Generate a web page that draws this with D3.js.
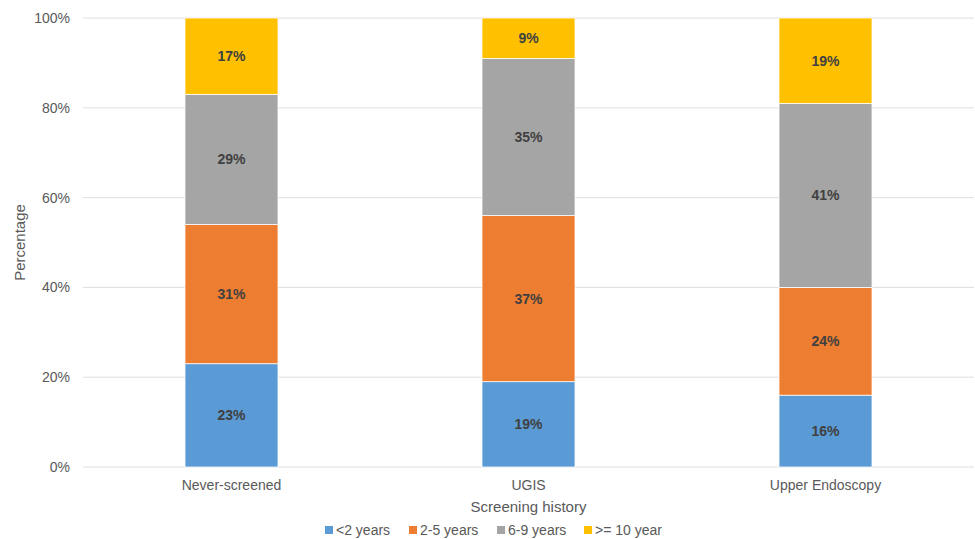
<!DOCTYPE html>
<html>
<head>
<meta charset="utf-8">
<script src="https://cdn.jsdelivr.net/npm/d3@7"></script>
<style>
  html, body { margin: 0; padding: 0; background: #fff; }
  svg { display: block; font-family: "Liberation Sans", Arial, sans-serif; }
</style>
</head>
<body>
<svg id="chart" width="975" height="539"></svg>
<script>
// Screening groups and the share of each interval series (percent)
const categories = ["Never-screened", "UGIS", "Upper Endoscopy"];
const seriesNames = ["<2 years", "2-5 years", "6-9 years", ">= 10 year"];
const lessThan2 = [23, 19, 16];
const from2to5 = [31, 37, 24];
const from6to9 = [29, 35, 41];
const tenPlus = [17, 9, 19];
const yTicks = [0, 20, 40, 60, 80, 100];
const colors = ["#5B9BD5", "#ED7D31", "#A5A5A5", "#FFC000"];

const seriesValues = [lessThan2, from2to5, from6to9, tenPlus];
const rows = categories.map((c, i) => {
  const r = { category: c };
  seriesNames.forEach((s, j) => { r[s] = seriesValues[j][i]; });
  return r;
});
const stacked = d3.stack().keys(seriesNames)(rows);

const svg = d3.select("#chart");
const margin = { left: 83, right: 1, top: 18, bottom: 72 };
const width = 975, height = 539;

const x = d3.scaleBand()
  .domain(categories)
  .range([margin.left, width - margin.right])
  .paddingInner(0.6869)
  .paddingOuter(0.3434);

const y = d3.scaleLinear()
  .domain([0, 100])
  .range([height - margin.bottom, margin.top]);

// horizontal gridlines
svg.append("g")
  .selectAll("line")
  .data(yTicks)
  .join("line")
  .attr("x1", margin.left)
  .attr("x2", width - margin.right)
  .attr("y1", d => y(d))
  .attr("y2", d => y(d))
  .attr("stroke", "#dedede")
  .attr("stroke-width", 1);

// y axis tick labels
const yAxis = svg.append("g")
  .attr("transform", `translate(${margin.left - 13},0)`)
  .call(d3.axisLeft(y).tickValues(yTicks).tickFormat(d => d + "%").tickSize(0).tickPadding(0));
yAxis.select(".domain").remove();
yAxis.selectAll("text")
  .attr("fill", "#595959")
  .style("font-size", "14px")
  .style("font-family", "Liberation Sans, Arial, sans-serif");

// stacked bars
const layer = svg.append("g")
  .selectAll("g")
  .data(stacked)
  .join("g")
  .attr("fill", (d, i) => colors[i]);

layer.selectAll("rect")
  .data(d => d)
  .join("rect")
  .attr("x", d => x(d.data.category))
  .attr("width", x.bandwidth())
  .attr("y", d => y(d[1]))
  .attr("height", d => y(d[0]) - y(d[1]))
  .attr("stroke", "#ffffff")
  .attr("stroke-width", 0.75);

// value labels
layer.selectAll("text")
  .data(d => d.map(v => ({ v, key: d.key })))
  .join("text")
  .attr("x", d => x(d.v.data.category) + x.bandwidth() / 2)
  .attr("y", d => (y(d.v[0]) + y(d.v[1])) / 2)
  .attr("dy", "0.35em")
  .attr("text-anchor", "middle")
  .attr("fill", "#404040")
  .style("font-size", "14px")
  .style("font-weight", "bold")
  .text(d => (d.v[1] - d.v[0]) + "%");

// x axis category labels
const xAxis = svg.append("g")
  .attr("transform", `translate(0,${height - margin.bottom})`)
  .call(d3.axisBottom(x).tickSize(0).tickPadding(13));
xAxis.select(".domain").remove();
xAxis.selectAll("text")
  .attr("fill", "#595959")
  .style("font-size", "14px")
  .style("font-family", "Liberation Sans, Arial, sans-serif");

// axis titles
svg.append("text")
  .attr("x", (margin.left + width - margin.right) / 2)
  .attr("y", 512)
  .attr("text-anchor", "middle")
  .attr("fill", "#595959")
  .style("font-size", "15px")
  .text("Screening history");

svg.append("text")
  .attr("transform", `translate(25,${(y(0) + y(100)) / 2}) rotate(-90)`)
  .attr("text-anchor", "middle")
  .attr("fill", "#595959")
  .style("font-size", "15px")
  .text("Percentage");

// legend
const legendItemX = [325, 409, 497, 584];
const legend = svg.append("g")
  .selectAll("g")
  .data(seriesNames)
  .join("g")
  .attr("transform", (d, i) => `translate(${legendItemX[i]},530)`);
legend.append("rect")
  .attr("x", 0).attr("y", -4)
  .attr("width", 8).attr("height", 8)
  .attr("fill", (d, i) => colors[i]);
legend.append("text")
  .attr("x", 11)
  .attr("dy", "0.35em")
  .attr("fill", "#595959")
  .style("font-size", "14px")
  .text(d => d);
</script>
</body>
</html>
